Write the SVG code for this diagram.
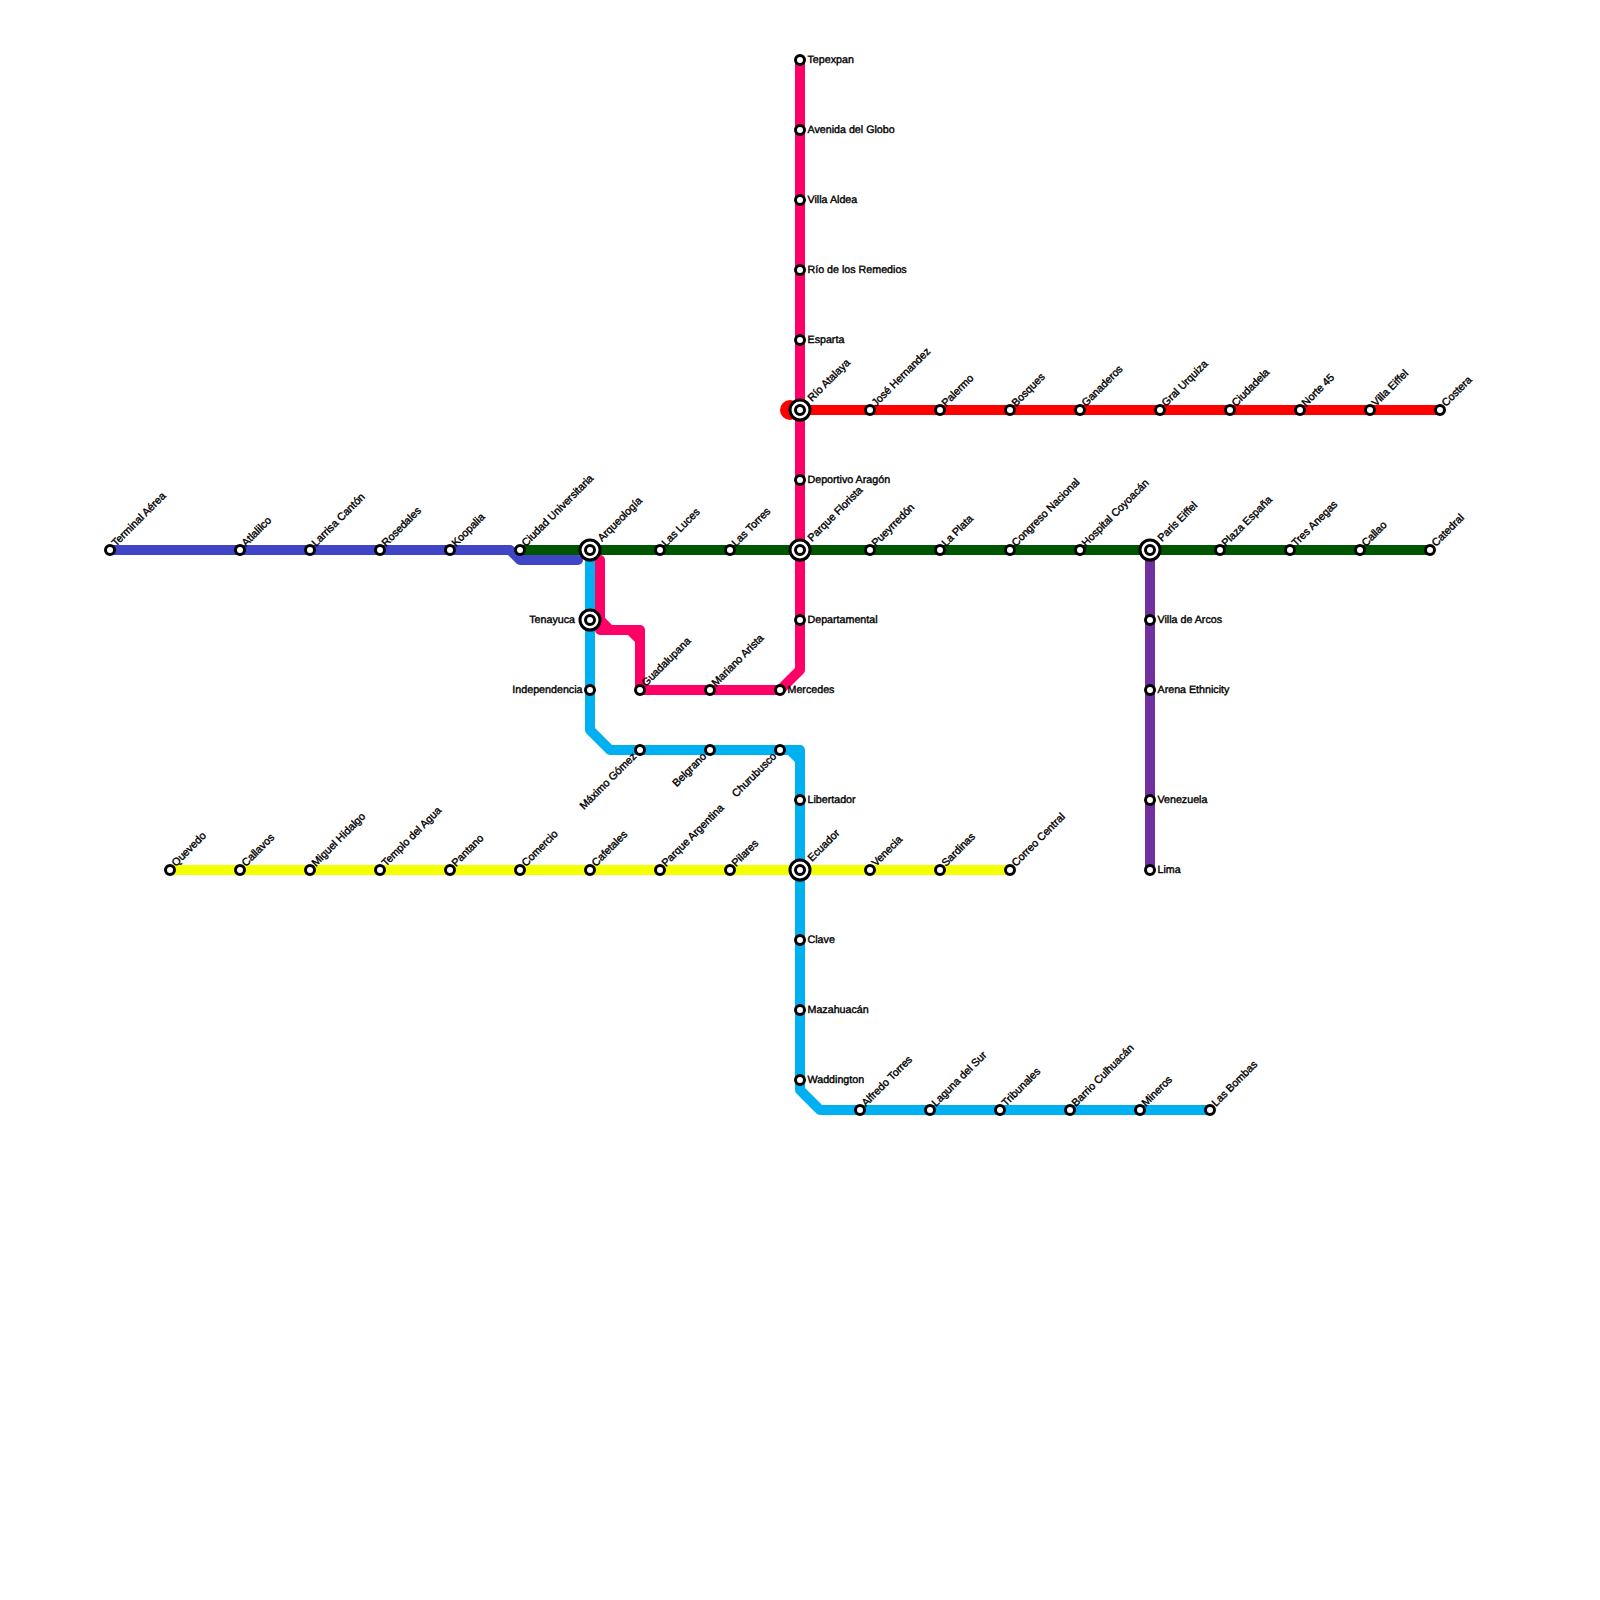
<svg xmlns="http://www.w3.org/2000/svg" width="1600" height="1600" viewBox="0 0 1600 1600">
<style>
.ln{fill:none;stroke-width:10;stroke-linejoin:round;stroke-linecap:round}
.bt{stroke-linecap:butt}
.blue{stroke:#4045c8}.green{stroke:#005500}.cyan{stroke:#00b0f0}.pink{stroke:#ff0066}.red{stroke:#ff0000}.yellow{stroke:#f4ff00}.purple{stroke:#7030a0}
.s{fill:#fff;stroke:#000;stroke-width:3}
text{font-family:"Liberation Sans",Arial,sans-serif;font-size:10.7px;font-weight:400;fill:#000;stroke:#000;stroke-width:.38;text-rendering:geometricPrecision}
.e{text-anchor:end}
</style>
<rect width="1600" height="1600" fill="#fff"/>
<g id="connectors">
<path class="ln blue" d="M110 550H510L520 560H578"/>
<path class="ln cyan" d="M590 550V730L610 750H800V1090L820 1110H1210"/>
<path class="ln cyan" d="M790 750L800 760"/>
<path class="ln pink" d="M800 60V670L780 690H640V630H600V560"/>
<path class="ln pink" d="M600 620L610 630M630 630L640 640M640 685L645 690"/>
<circle cx="790" cy="410" r="10" fill="#ff0000"/>
<path class="ln red" d="M790 410H1440"/>
<path class="ln bt yellow" d="M170 870H1010"/>
<path class="ln bt green" d="M520 550H1430"/>
<path class="ln bt purple" d="M1150 550V870"/>
</g>
<g id="n-terminal-aerea"><circle class="s" cx="110" cy="550" r="4.5"/><text x="116" y="547" transform="rotate(-45 116 547)">Terminal Aérea</text></g>
<g id="n-atlalilco"><circle class="s" cx="240" cy="550" r="4.5"/><text x="246" y="547" transform="rotate(-45 246 547)">Atlalilco</text></g>
<g id="n-larrisa-canton"><circle class="s" cx="310" cy="550" r="4.5"/><text x="316" y="547" transform="rotate(-45 316 547)">Larrisa Cantón</text></g>
<g id="n-rosedales"><circle class="s" cx="380" cy="550" r="4.5"/><text x="386" y="547" transform="rotate(-45 386 547)">Rosedales</text></g>
<g id="n-koopalia"><circle class="s" cx="450" cy="550" r="4.5"/><text x="456" y="547" transform="rotate(-45 456 547)">Koopalia</text></g>
<g id="n-ciudad-universitaria"><circle class="s" cx="520" cy="550" r="4.5"/><text x="526" y="547" transform="rotate(-45 526 547)">Ciudad Universitaria</text></g>
<g id="n-arqueologia"><circle class="s" cx="590" cy="550" r="10"/><circle class="s" cx="590" cy="550" r="4.5"/><text x="602" y="542" transform="rotate(-45 602 542)">Arqueología</text></g>
<g id="n-las-luces"><circle class="s" cx="660" cy="550" r="4.5"/><text x="666" y="547" transform="rotate(-45 666 547)">Las Luces</text></g>
<g id="n-las-torres"><circle class="s" cx="730" cy="550" r="4.5"/><text x="736" y="547" transform="rotate(-45 736 547)">Las Torres</text></g>
<g id="n-parque-florista"><circle class="s" cx="800" cy="550" r="10"/><circle class="s" cx="800" cy="550" r="4.5"/><text x="812" y="542" transform="rotate(-45 812 542)">Parque Florista</text></g>
<g id="n-pueyrredon"><circle class="s" cx="870" cy="550" r="4.5"/><text x="876" y="547" transform="rotate(-45 876 547)">Pueyrredón</text></g>
<g id="n-la-plata"><circle class="s" cx="940" cy="550" r="4.5"/><text x="946" y="547" transform="rotate(-45 946 547)">La Plata</text></g>
<g id="n-congreso-nacional"><circle class="s" cx="1010" cy="550" r="4.5"/><text x="1016" y="547" transform="rotate(-45 1016 547)">Congreso Nacional</text></g>
<g id="n-hospital-coyoacan"><circle class="s" cx="1080" cy="550" r="4.5"/><text x="1086" y="547" transform="rotate(-45 1086 547)">Hospital Coyoacán</text></g>
<g id="n-paris-eiffel"><circle class="s" cx="1150" cy="550" r="10"/><circle class="s" cx="1150" cy="550" r="4.5"/><text x="1162" y="542" transform="rotate(-45 1162 542)">Paris Eiffel</text></g>
<g id="n-plaza-espana"><circle class="s" cx="1220" cy="550" r="4.5"/><text x="1226" y="547" transform="rotate(-45 1226 547)">Plaza España</text></g>
<g id="n-tres-anegas"><circle class="s" cx="1290" cy="550" r="4.5"/><text x="1296" y="547" transform="rotate(-45 1296 547)">Tres Anegas</text></g>
<g id="n-callao"><circle class="s" cx="1360" cy="550" r="4.5"/><text x="1366" y="547" transform="rotate(-45 1366 547)">Callao</text></g>
<g id="n-catedral"><circle class="s" cx="1430" cy="550" r="4.5"/><text x="1436" y="547" transform="rotate(-45 1436 547)">Catedral</text></g>
<g id="n-tepexpan"><circle class="s" cx="800" cy="60" r="4.5"/><text x="807.5" y="63">Tepexpan</text></g>
<g id="n-avenida-del-globo"><circle class="s" cx="800" cy="130" r="4.5"/><text x="807.5" y="133">Avenida del Globo</text></g>
<g id="n-villa-aldea"><circle class="s" cx="800" cy="200" r="4.5"/><text x="807.5" y="203">Villa Aldea</text></g>
<g id="n-rio-de-los-remedios"><circle class="s" cx="800" cy="270" r="4.5"/><text x="807.5" y="273">Río de los Remedios</text></g>
<g id="n-esparta"><circle class="s" cx="800" cy="340" r="4.5"/><text x="807.5" y="343">Esparta</text></g>
<g id="n-rio-atalaya"><circle class="s" cx="800" cy="410" r="10"/><circle class="s" cx="800" cy="410" r="4.5"/><text x="812" y="402" transform="rotate(-45 812 402)">Río Atalaya</text></g>
<g id="n-jose-hernandez"><circle class="s" cx="870" cy="410" r="4.5"/><text x="876" y="407" transform="rotate(-45 876 407)">José Hernandez</text></g>
<g id="n-palermo"><circle class="s" cx="940" cy="410" r="4.5"/><text x="946" y="407" transform="rotate(-45 946 407)">Palermo</text></g>
<g id="n-bosques"><circle class="s" cx="1010" cy="410" r="4.5"/><text x="1016" y="407" transform="rotate(-45 1016 407)">Bosques</text></g>
<g id="n-ganaderos"><circle class="s" cx="1080" cy="410" r="4.5"/><text x="1086" y="407" transform="rotate(-45 1086 407)">Ganaderos</text></g>
<g id="n-gral-urquiza"><circle class="s" cx="1160" cy="410" r="4.5"/><text x="1166" y="407" transform="rotate(-45 1166 407)">Gral Urquiza</text></g>
<g id="n-ciudadela"><circle class="s" cx="1230" cy="410" r="4.5"/><text x="1236" y="407" transform="rotate(-45 1236 407)">Ciudadela</text></g>
<g id="n-norte-45"><circle class="s" cx="1300" cy="410" r="4.5"/><text x="1306" y="407" transform="rotate(-45 1306 407)">Norte 45</text></g>
<g id="n-villa-eiffel"><circle class="s" cx="1370" cy="410" r="4.5"/><text x="1376" y="407" transform="rotate(-45 1376 407)">Villa Eiffel</text></g>
<g id="n-costera"><circle class="s" cx="1440" cy="410" r="4.5"/><text x="1446" y="407" transform="rotate(-45 1446 407)">Costera</text></g>
<g id="n-deportivo-aragon"><circle class="s" cx="800" cy="480" r="4.5"/><text x="807.5" y="483">Deportivo Aragón</text></g>
<g id="n-departamental"><circle class="s" cx="800" cy="620" r="4.5"/><text x="807.5" y="623">Departamental</text></g>
<g id="n-tenayuca"><circle class="s" cx="590" cy="620" r="10"/><circle class="s" cx="590" cy="620" r="4.5"/><text class="e" x="575" y="623">Tenayuca</text></g>
<g id="n-independencia"><circle class="s" cx="590" cy="690" r="4.5"/><text class="e" x="582.5" y="693">Independencia</text></g>
<g id="n-guadalupana"><circle class="s" cx="640" cy="690" r="4.5"/><text x="646" y="687" transform="rotate(-45 646 687)">Guadalupana</text></g>
<g id="n-mariano-arista"><circle class="s" cx="710" cy="690" r="4.5"/><text x="716" y="687" transform="rotate(-45 716 687)">Mariano Arista</text></g>
<g id="n-mercedes"><circle class="s" cx="780" cy="690" r="4.5"/><text x="787.5" y="693">Mercedes</text></g>
<g id="n-maximo-gomez"><circle class="s" cx="640" cy="750" r="4.5"/><text class="e" x="637" y="757" transform="rotate(-45 637 757)">Máximo Gómez</text></g>
<g id="n-belgrano"><circle class="s" cx="710" cy="750" r="4.5"/><text class="e" x="707" y="757" transform="rotate(-45 707 757)">Belgrano</text></g>
<g id="n-churubusco"><circle class="s" cx="780" cy="750" r="4.5"/><text class="e" x="777" y="757" transform="rotate(-45 777 757)">Churubusco</text></g>
<g id="n-libertador"><circle class="s" cx="800" cy="800" r="4.5"/><text x="807.5" y="803">Libertador</text></g>
<g id="n-quevedo"><circle class="s" cx="170" cy="870" r="4.5"/><text x="176" y="867" transform="rotate(-45 176 867)">Quevedo</text></g>
<g id="n-callavos"><circle class="s" cx="240" cy="870" r="4.5"/><text x="246" y="867" transform="rotate(-45 246 867)">Callavos</text></g>
<g id="n-miguel-hidalgo"><circle class="s" cx="310" cy="870" r="4.5"/><text x="316" y="867" transform="rotate(-45 316 867)">Miguel Hidalgo</text></g>
<g id="n-templo-del-agua"><circle class="s" cx="380" cy="870" r="4.5"/><text x="386" y="867" transform="rotate(-45 386 867)">Templo del Agua</text></g>
<g id="n-pantano"><circle class="s" cx="450" cy="870" r="4.5"/><text x="456" y="867" transform="rotate(-45 456 867)">Pantano</text></g>
<g id="n-comercio"><circle class="s" cx="520" cy="870" r="4.5"/><text x="526" y="867" transform="rotate(-45 526 867)">Comercio</text></g>
<g id="n-cafetales"><circle class="s" cx="590" cy="870" r="4.5"/><text x="596" y="867" transform="rotate(-45 596 867)">Cafetales</text></g>
<g id="n-parque-argentina"><circle class="s" cx="660" cy="870" r="4.5"/><text x="666" y="867" transform="rotate(-45 666 867)">Parque Argentina</text></g>
<g id="n-pilares"><circle class="s" cx="730" cy="870" r="4.5"/><text x="736" y="867" transform="rotate(-45 736 867)">Pilares</text></g>
<g id="n-ecuador"><circle class="s" cx="800" cy="870" r="10"/><circle class="s" cx="800" cy="870" r="4.5"/><text x="812" y="862" transform="rotate(-45 812 862)">Ecuador</text></g>
<g id="n-venecia"><circle class="s" cx="870" cy="870" r="4.5"/><text x="876" y="867" transform="rotate(-45 876 867)">Venecia</text></g>
<g id="n-sardinas"><circle class="s" cx="940" cy="870" r="4.5"/><text x="946" y="867" transform="rotate(-45 946 867)">Sardinas</text></g>
<g id="n-correo-central"><circle class="s" cx="1010" cy="870" r="4.5"/><text x="1016" y="867" transform="rotate(-45 1016 867)">Correo Central</text></g>
<g id="n-clave"><circle class="s" cx="800" cy="940" r="4.5"/><text x="807.5" y="943">Clave</text></g>
<g id="n-mazahuacan"><circle class="s" cx="800" cy="1010" r="4.5"/><text x="807.5" y="1013">Mazahuacán</text></g>
<g id="n-waddington"><circle class="s" cx="800" cy="1080" r="4.5"/><text x="807.5" y="1083">Waddington</text></g>
<g id="n-alfredo-torres"><circle class="s" cx="860" cy="1110" r="4.5"/><text x="866" y="1107" transform="rotate(-45 866 1107)">Alfredo Torres</text></g>
<g id="n-laguna-del-sur"><circle class="s" cx="930" cy="1110" r="4.5"/><text x="936" y="1107" transform="rotate(-45 936 1107)">Laguna del Sur</text></g>
<g id="n-tribunales"><circle class="s" cx="1000" cy="1110" r="4.5"/><text x="1006" y="1107" transform="rotate(-45 1006 1107)">Tribunales</text></g>
<g id="n-barrio-culhuacan"><circle class="s" cx="1070" cy="1110" r="4.5"/><text x="1076" y="1107" transform="rotate(-45 1076 1107)">Barrio Culhuacán</text></g>
<g id="n-mineros"><circle class="s" cx="1140" cy="1110" r="4.5"/><text x="1146" y="1107" transform="rotate(-45 1146 1107)">Mineros</text></g>
<g id="n-las-bombas"><circle class="s" cx="1210" cy="1110" r="4.5"/><text x="1216" y="1107" transform="rotate(-45 1216 1107)">Las Bombas</text></g>
<g id="n-villa-de-arcos"><circle class="s" cx="1150" cy="620" r="4.5"/><text x="1157.5" y="623">Villa de Arcos</text></g>
<g id="n-arena-ethnicity"><circle class="s" cx="1150" cy="690" r="4.5"/><text x="1157.5" y="693">Arena Ethnicity</text></g>
<g id="n-venezuela"><circle class="s" cx="1150" cy="800" r="4.5"/><text x="1157.5" y="803">Venezuela</text></g>
<g id="n-lima"><circle class="s" cx="1150" cy="870" r="4.5"/><text x="1157.5" y="873">Lima</text></g>
</svg>
